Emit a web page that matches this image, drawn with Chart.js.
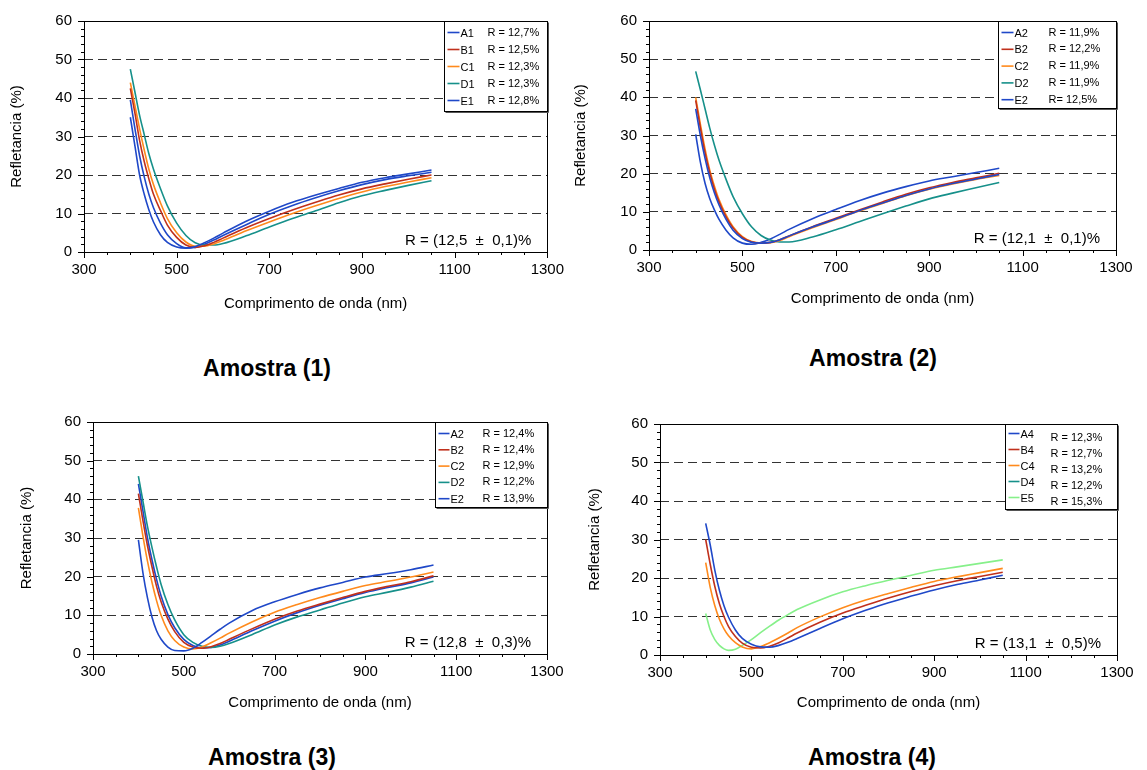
<!DOCTYPE html>
<html lang="pt">
<head>
<meta charset="UTF-8">
<title>Refletancia - Amostras (1) a (4)</title>
<script src="https://cdn.jsdelivr.net/npm/chart.js@4.4.0/dist/chart.umd.min.js"></script>
<style>
  body { margin: 0; background: #fff; width: 1147px; height: 770px; position: relative; overflow: hidden;
         font-family: 'Liberation Sans', Arial, sans-serif; }
  canvas { position: absolute; }
  .amostra { position: absolute; transform: translate(-50%, -50%); font-weight: bold; font-size: 23px; color: #000; white-space: nowrap; }
</style>
</head>
<body>

<canvas id="c1" width="573" height="320" style="left:0;top:0"></canvas>
<canvas id="c2" width="575" height="320" style="left:572px;top:0"></canvas>
<canvas id="c3" width="573" height="330" style="left:0;top:400px"></canvas>
<canvas id="c4" width="575" height="330" style="left:572px;top:400px"></canvas>

<div class="amostra" style="left:267px;top:368px">Amostra (1)</div>
<div class="amostra" style="left:873px;top:358px">Amostra (2)</div>
<div class="amostra" style="left:272px;top:757px">Amostra (3)</div>
<div class="amostra" style="left:872px;top:757px">Amostra (4)</div>

<script>
// wavelength (nm) shared by every curve
const wavelength = [400, 410, 420, 430, 440, 450, 465, 480, 500, 520, 540, 560, 580, 600, 650, 700, 750, 800, 850, 900, 950, 1000, 1050];

// Amostra (1)
const names1 = ['A1', 'B1', 'C1', 'D1', 'E1'];
const rText1 = ['R = 12,7%', 'R = 12,5%', 'R = 12,3%', 'R = 12,3%', 'R = 12,8%'];
const a1 = [35, 27.5, 20, 15, 11, 7.8, 4.5, 2.5, 1.3, 1.0, 1.4, 2.4, 3.6, 4.9, 8.0, 10.6, 12.9, 14.8, 16.5, 18.1, 19.3, 20.3, 21.3];
const b1 = [42.5, 36, 29, 23.5, 19, 15, 10.8, 7, 3.8, 1.8, 1.2, 1.6, 2.5, 3.6, 6.3, 8.7, 10.9, 12.9, 14.8, 16.4, 17.7, 18.9, 20.0];
const c1 = [44, 38, 32, 26.5, 21.5, 17.5, 12.8, 8.7, 5, 2.6, 1.5, 1.5, 2.1, 3.0, 5.5, 7.8, 10, 12.0, 13.9, 15.6, 17, 18.2, 19.3];
const d1 = [47.5, 41.5, 35.5, 30.5, 25.5, 21.5, 16.5, 12, 7.5, 4.3, 2.4, 1.8, 1.8, 2.2, 4.2, 6.5, 8.7, 10.7, 12.8, 14.6, 16, 17.3, 18.5];
const e1 = [39.5, 32, 25, 19.5, 15, 11.5, 7.5, 4.5, 2.2, 1.1, 1.2, 2.0, 3.1, 4.3, 7.1, 9.8, 12.1, 14.1, 15.9, 17.5, 18.8, 19.8, 20.7];
const summary1 = 'R = (12,5  \u00b1  0,1)%';

// Amostra (2)
const names2 = ['A2', 'B2', 'C2', 'D2', 'E2'];
const rText2 = ['R = 11,9%', 'R = 12,2%', 'R = 11,9%', 'R = 11,9%', 'R= 12,5%'];
const a2 = [37, 30, 24, 19, 15, 11.8, 8, 5.2, 3, 2, 1.8, 2.0, 2.7, 3.7, 6, 8.1, 10.3, 12.3, 14.3, 16.0, 17.4, 18.6, 19.8];
const b2 = [39.2, 32, 25.5, 20.3, 16, 12.6, 8.7, 5.8, 3.3, 2.1, 1.8, 2.0, 2.7, 3.7, 6.1, 8.3, 10.5, 12.6, 14.6, 16.3, 17.7, 18.9, 20.1];
const c2 = [40, 33, 26.5, 21, 16.8, 13.2, 9.2, 6.1, 3.5, 2.2, 1.8, 1.9, 2.5, 3.5, 5.8, 8.0, 10.2, 12.2, 14.2, 15.9, 17.3, 18.5, 19.5];
const d2 = [46.8, 42, 37, 32, 27.5, 23.5, 18.5, 14, 9.5, 6, 3.8, 2.6, 2.1, 2.1, 3.4, 5.3, 7.4, 9.5, 11.5, 13.4, 14.9, 16.3, 17.7];
const e2 = [30.3, 23, 17.5, 13.5, 10.5, 8, 5.2, 3.2, 1.8, 1.5, 2.0, 2.9, 4.1, 5.4, 8.2, 10.6, 12.9, 14.9, 16.6, 18.1, 19.2, 20.3, 21.4];
const summary2 = 'R = (12,1  \u00b1  0,1)%';

// Amostra (3)
const names3 = ['A2', 'B2', 'C2', 'D2', 'E2'];
const rText3 = ['R = 12,4%', 'R = 12,4%', 'R = 12,9%', 'R = 12,2%', 'R = 13,9%'];
const a3 = [29.5, 21, 14.5, 9.5, 6, 3.8, 1.8, 0.9, 0.8, 1.5, 3.0, 4.7, 6.4, 8, 11.2, 13.5, 15.4, 17.1, 18.5, 19.9, 20.8, 21.8, 23.0];
const b3 = [41.5, 34.5, 28, 22.5, 17.5, 13.5, 9, 5.8, 3, 1.8, 1.5, 1.9, 2.7, 3.8, 6.5, 9, 11.1, 12.9, 14.6, 16.2, 17.5, 18.7, 20.2];
const c3 = [37.8, 30.5, 24, 18.5, 13.8, 10, 6, 3.5, 1.8, 1.3, 1.8, 2.9, 4.1, 5.4, 8.3, 10.8, 12.8, 14.6, 16.2, 17.7, 18.8, 19.9, 21.2];
const d3 = [46, 39.5, 33, 27.5, 22.5, 18, 12.8, 8.8, 5, 3, 2, 1.7, 2.0, 2.7, 5.0, 7.5, 9.6, 11.4, 13.2, 14.8, 16.0, 17.3, 18.8];
const e3 = [44, 37, 30, 24.3, 19.3, 15, 10.2, 6.8, 3.8, 2.2, 1.6, 1.7, 2.3, 3.3, 6.0, 8.5, 10.7, 12.6, 14.3, 15.9, 17.2, 18.4, 19.9];
const summary3 = 'R = (12,8  \u00b1  0,3)%';

// Amostra (4) -- D4 is only in the legend, no curve visible
const names4 = ['A4', 'B4', 'C4', 'D4', 'E5'];
const rText4 = ['R = 12,3%', 'R = 12,7%', 'R = 13,2%', 'R = 12,2%', 'R = 15,3%'];
const a4 = [34.2, 28.5, 22, 16.8, 12.8, 9.8, 6.5, 4.3, 2.8, 2.1, 2.0, 2.5, 3.3, 4.3, 6.9, 9.4, 11.6, 13.6, 15.3, 16.9, 18.3, 19.5, 20.7];
const b4 = [30, 23.5, 17.8, 13.3, 10, 7.4, 4.8, 3.1, 2.0, 1.8, 2.3, 3.2, 4.4, 5.7, 8.5, 10.9, 12.9, 14.8, 16.5, 18.0, 19.3, 20.4, 21.5];
const c4 = [24, 17.5, 12.8, 9.3, 6.8, 5, 3.2, 2.1, 1.6, 2.2, 3.2, 4.4, 5.7, 7.1, 9.9, 12.3, 14.3, 16.0, 17.6, 19.1, 20.3, 21.4, 22.5];
const d4 = [];
const e5 = [10.8, 6.5, 4, 2.5, 1.6, 1.2, 1.5, 2.5, 4, 5.8, 7.5, 9.1, 10.5, 11.8, 14.3, 16.4, 18.0, 19.4, 20.7, 22.0, 22.9, 23.8, 24.7];
const summary4 = 'R = (13,1  \u00b1  0,5)%';

const BLUE = '#1f48c8', RED = '#c0301c', ORANGE = '#ff8a1c', TEAL = '#16908a', GREEN = '#86f08a';
const FONT = "'Liberation Sans', Arial, sans-serif";

function series(label, values, color) {
  return {
    label,
    data: values.map((v, i) => ({ x: wavelength[i], y: v })),
    borderColor: color,
    borderWidth: 1.6,
    pointRadius: 0,
    cubicInterpolationMode: 'monotone',
    fill: false,
  };
}

// box, minor ticks, legend and the mean value text
const framePlugin = {
  id: 'frame',
  afterDraw(chart, args, o) {
    const { ctx, chartArea: a, scales: { x, y } } = chart;
    ctx.save();
    ctx.strokeStyle = '#000';
    ctx.lineWidth = 1;
    ctx.beginPath();
    for (let v = 0; v <= 60; v += 2) {
      const py = Math.round(y.getPixelForValue(v)) + 0.5;
      const len = v % 10 === 0 ? 6 : 3;
      ctx.moveTo(a.left - len, py); ctx.lineTo(a.left, py);
    }
    for (let v = 300; v <= 1300; v += 50) {
      const px = Math.round(x.getPixelForValue(v)) + 0.5;
      const len = (v - 300) % 200 === 0 ? 6 : 3;
      ctx.moveTo(px, a.bottom); ctx.lineTo(px, a.bottom + len);
    }
    ctx.stroke();
    ctx.strokeRect(Math.round(a.left) + 0.5, Math.round(a.top) + 0.5, Math.round(a.width), Math.round(a.height));

    // legend box
    const bx = Math.round(a.right - o.w) + 0.5, by = Math.round(a.top) + 0.5;
    ctx.fillStyle = '#fff';
    ctx.fillRect(bx, by, o.w, o.h);
    ctx.strokeStyle = '#555';
    ctx.beginPath();
    ctx.moveTo(bx + 1, by + o.h + 1); ctx.lineTo(bx + o.w + 1, by + o.h + 1); ctx.lineTo(bx + o.w + 1, by + 1);
    ctx.stroke();
    ctx.strokeStyle = '#000';
    ctx.strokeRect(bx, by, o.w, o.h);
    ctx.font = '11px ' + FONT;
    ctx.textBaseline = 'middle';
    ctx.fillStyle = '#000';
    chart.data.datasets.forEach((ds, i) => {
      const ry = by + o.first + i * o.gap;
      ctx.strokeStyle = ds.borderColor;
      ctx.lineWidth = 1.6;
      ctx.beginPath();
      ctx.moveTo(bx + 3, ry); ctx.lineTo(bx + o.labelX - 1, ry);
      ctx.stroke();
      ctx.textAlign = 'left';
      ctx.fillText(ds.label, bx + o.labelX, ry + 1);
      ctx.fillText(o.rTexts[i], bx + o.rX, ry + (o.rDy || 0));
    });

    // mean reflectance
    ctx.font = '15px ' + FONT;
    ctx.textAlign = 'right';
    ctx.fillText(o.summary, a.right - 16, a.bottom - 11);
    ctx.restore();
  },
};

function makeChart(id, datasets, rTexts, summary, lay) {
  return new Chart(document.getElementById(id), {
    type: 'line',
    data: { datasets },
    options: {
      responsive: false,
      animation: false,
      layout: { padding: { left: 0, top: lay.top, right: lay.right, bottom: 0 } },
      plugins: {
        legend: { display: false },
        tooltip: { enabled: false },
        frame: Object.assign({ rTexts, summary }, lay.legend),
      },
      scales: {
        x: {
          type: 'linear', min: 300, max: 1300,
          ticks: { stepSize: 200, padding: 9, maxRotation: 0, color: '#000', font: { family: FONT, size: 15 },
                   callback: v => String(v) },
          grid: { display: false, drawTicks: false },
          border: { display: false },
          title: { display: true, text: 'Comprimento de onda (nm)', color: '#000', font: { family: FONT, size: 15 },
                   padding: { top: 0, bottom: lay.xTitlePad } },
          afterFit: s => { s.height = lay.xH; },
        },
        y: {
          min: 0, max: 60,
          ticks: { stepSize: 10, padding: 12, color: '#000', font: { family: FONT, size: 15 } },
          grid: {
            drawTicks: false,
            lineWidth: 1,
            color: c => (c.tick && (c.tick.value === 0 || c.tick.value === 60)) ? 'rgba(0,0,0,0)' : '#333',
          },
          border: { display: false, dash: [9, 5] },
          title: { display: true, text: 'Refletancia (%)', color: '#000', font: { family: FONT, size: 15 },
                   padding: { top: lay.yTitlePad, bottom: 0 } },
          afterFit: s => { s.width = lay.yW; },
        },
      },
    },
    plugins: [framePlugin],
  });
}

makeChart('c1',
  [series(names1[0], a1, BLUE), series(names1[1], b1, RED), series(names1[2], c1, ORANGE),
   series(names1[3], d1, TEAL), series(names1[4], e1, BLUE)],
  rText1, summary1,
  { top: 14, right: 25, yW: 84, xH: 68, xTitlePad: 7, yTitlePad: 8,
    legend: { w: 103, h: 90, first: 11, gap: 17, labelX: 16, rX: 43 } });

makeChart('c2',
  [series(names2[0], a2, BLUE), series(names2[1], b2, RED), series(names2[2], c2, ORANGE),
   series(names2[3], d2, TEAL), series(names2[4], e2, BLUE)],
  rText2, summary2,
  { top: 12, right: 31, yW: 77, xH: 70, xTitlePad: 12, yTitlePad: 0,
    legend: { w: 118, h: 87, first: 11, gap: 16.8, labelX: 16, rX: 50 } });

makeChart('c3',
  [series(names3[0], a3, BLUE), series(names3[1], b3, RED), series(names3[2], c3, ORANGE),
   series(names3[3], d3, TEAL), series(names3[4], e3, BLUE)],
  rText3, summary3,
  { top: 22, right: 26, yW: 93, xH: 76, xTitlePad: 18, yTitlePad: 18,
    legend: { w: 112, h: 85, first: 11, gap: 16.3, labelX: 15, rX: 47 } });

makeChart('c4',
  [series(names4[0], a4, BLUE), series(names4[1], b4, RED), series(names4[2], c4, ORANGE),
   series(names4[3], d4, TEAL), series(names4[4], e5, GREEN)],
  rText4, summary4,
  { top: 24, right: 30, yW: 88, xH: 75, xTitlePad: 18, yTitlePad: 14,
    legend: { w: 112, h: 85, first: 9, gap: 16, labelX: 15, rX: 45, rDy: 4 } });
</script>
</body>
</html>
